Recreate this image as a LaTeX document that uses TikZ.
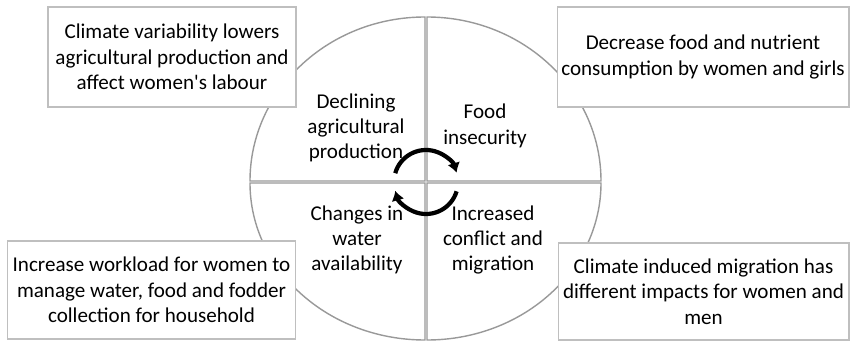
\documentclass[tikz,border=0pt]{standalone}
\usepackage{fontspec}
\setmainfont{Carlito}
\usetikzlibrary{positioning, arrows.meta}

\tikzset{
  quarter/.style   = {draw=black!40, line width=0.8pt, fill=white},
  effectbox/.style = {draw=black!25, line width=0.6pt, fill=white, align=center,
                      inner sep=0pt, font=\fontsize{12}{14.4}\selectfont},
  stage/.style     = {align=center, inner sep=0pt, font=\fontsize{12}{14.4}\selectfont},
  cyclearrow/.style= {line width=2.4pt, -{Latex[length=5.5pt,width=7.5pt]}}
}

\begin{document}
\begin{tikzpicture}[x=0.02cm, y=0.02cm]
        \useasboundingbox (0,0) rectangle (850,-341);
        \coordinate (hub) at (426,-182);
        % quarters
        \draw[quarter] (425,-181) -- ++(-175,0)
            arc[start angle=180, end angle=90, x radius=175, y radius=164] -- cycle;
        \draw[quarter] (427,-181) -- ++(0,164)
            arc[start angle=90, end angle=0, x radius=174, y radius=164] -- cycle;
        \draw[quarter] (425,-183) -- ++(-175,0)
            arc[start angle=180, end angle=270, x radius=175, y radius=157] -- cycle;
        \draw[quarter] (427,-183) -- ++(174,0)
            arc[start angle=0, end angle=-90, x radius=174, y radius=157] -- cycle;
        % stages
        \node (agri)  [stage] at (356,-128) {Declining\\agricultural\\production};
        \node (food)  [stage] at (485,-126) {Food\\insecurity};
        \node (water) [stage] at (357,-240) {Changes in\\water\\availability};
        \node (migr)  [stage] at (493,-240) {Increased\\conflict and\\migration};
        % cycle
        \draw[cyclearrow] ([shift={(164:32)}]hub) arc[start angle=164, end angle=17, radius=32];
        \draw[cyclearrow] ([shift={(-17:32)}]hub) arc[start angle=-17, end angle=-164, radius=32];
        % effects
        \node (labour) [effectbox, minimum width=4.96cm, minimum height=2cm] at (172,-57)
            {Climate variability lowers\\agricultural production and\\affect women\textquotesingle s labour};
        \node (diet)   [effectbox, minimum width=5.84cm, minimum height=2cm] at (703,-57)
            {Decrease food and nutrient\\consumption by women and girls};
        \node (work)   [effectbox, minimum width=5.78cm, minimum height=1.96cm] at (151.5,-290)
            {Increase workload for women to\\manage water, food and fodder\\collection for household};
        \node (move)   [effectbox, minimum width=5.82cm, minimum height=1.94cm] at (703.5,-291.5)
            {Climate induced migration has\\different impacts for women and\\men};
        %
\end{tikzpicture}
\end{document}
